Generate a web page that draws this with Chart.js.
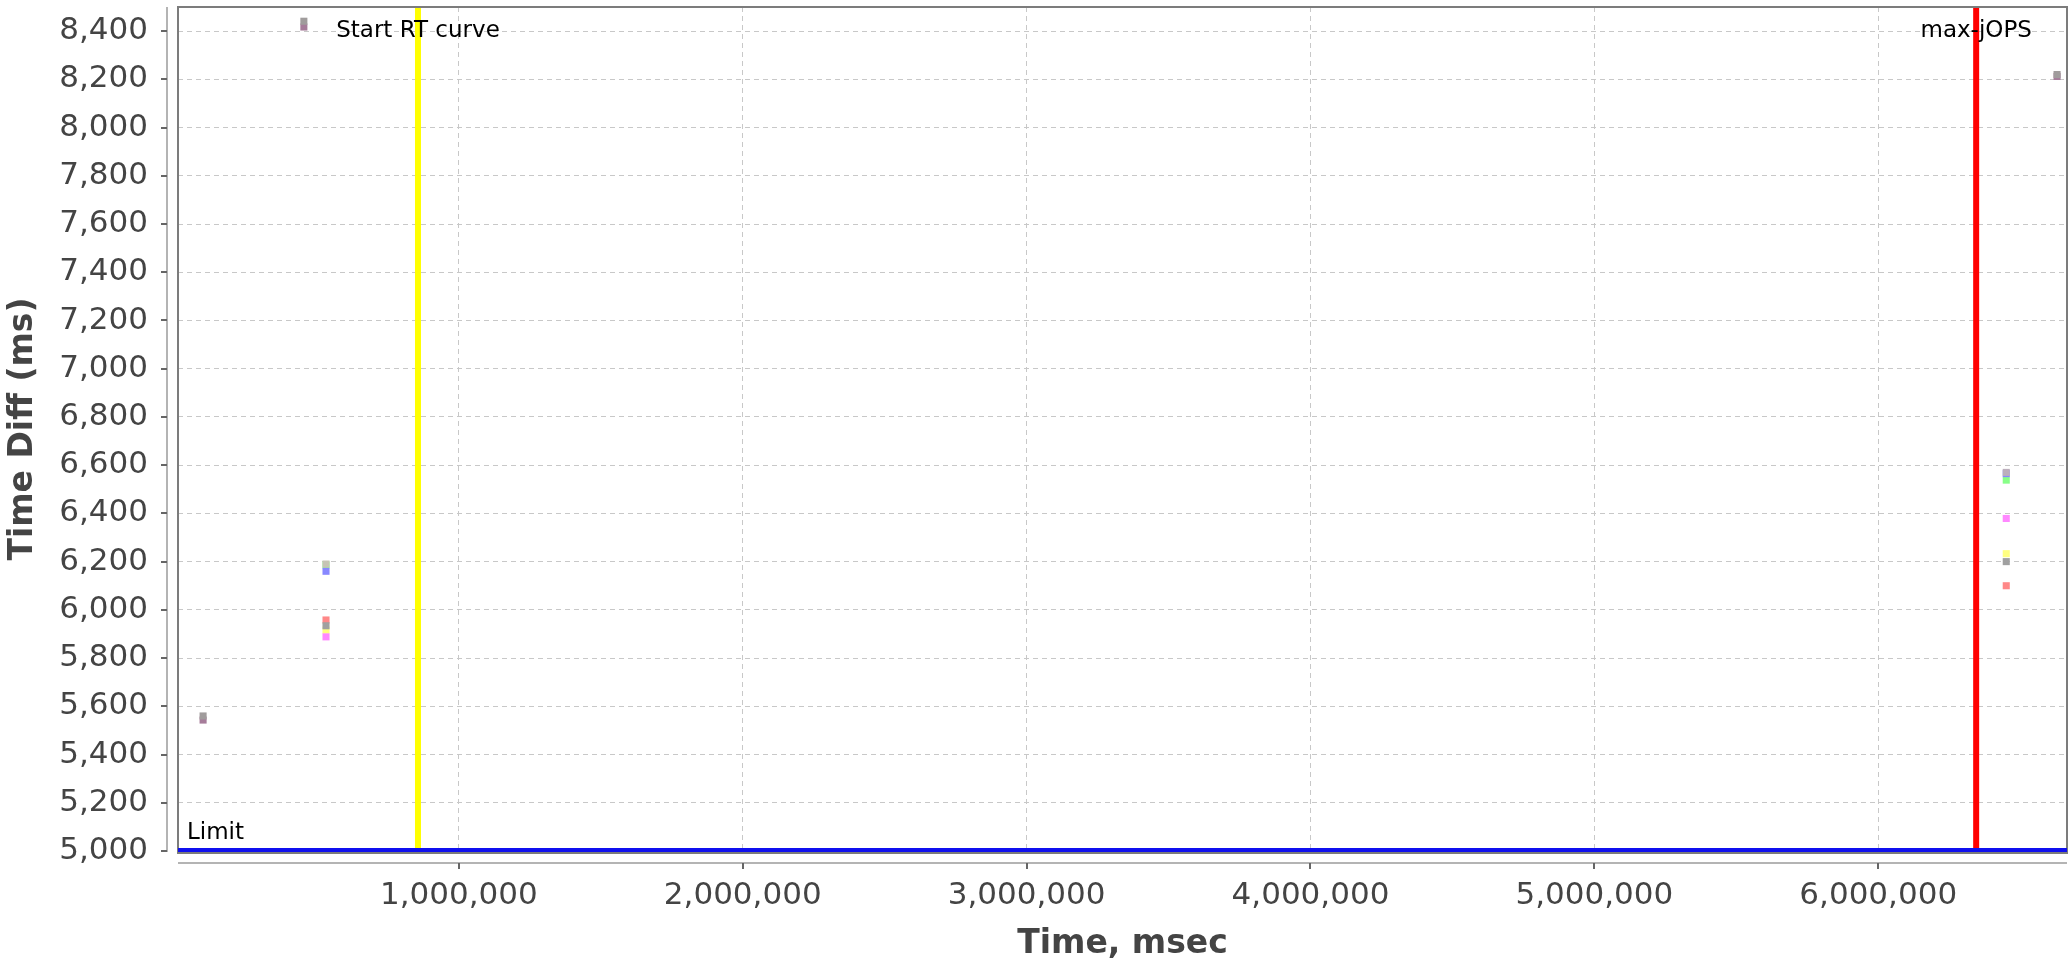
<!DOCTYPE html>
<html>
<head>
<meta charset="utf-8">
<script src="https://cdn.jsdelivr.net/npm/chart.js@4.4.0/dist/chart.umd.min.js"></script>
<style>
  html, body { margin: 0; padding: 0; background: #fff; }
  #contenedor { width: 2072px; height: 967px; }
</style>
</head>
<body>
<div id="contenedor"><canvas id="grafico" width="2072" height="967"></canvas></div>
<script>
// ticks de los ejes
var xTicks = [1000000, 2000000, 3000000, 4000000, 5000000, 6000000];
var yTicks = [5000, 5200, 5400, 5600, 5800, 6000, 6200, 6400, 6600, 6800, 7000, 7200, 7400, 7600, 7800, 8000, 8200, 8400];
var xMin = 10600, xMax = 6665000;
var yMin = 5000, yMax = 8500;

// marcadores
var startRT = 856000;   // Start RT curve
var maxJOPS = 6345000;  // max-jOPS
var limite = 5000;      // Limit

// series (tiempo en msec, diferencia en ms)
var plataX = [532000, 6451000],   plataY = [6190, 6570];
var grisX = [532000, 6451000],    grisY = [5934, 6200];
var magentaX = [532000, 6451000], magentaY = [5888, 6379];
var rojoX = [532000, 6451000],    rojoY = [5958, 6100];
var azulX = [532000, 6451000],    azulY = [6160, 6565];
var verdeX = [532000, 6451000],   verdeY = [6186, 6538];
var amarilloX = [532000, 6451000], amarilloY = [5916, 6233];
var grisMaxX = [99000, 454000, 6630000], grisMaxY = [5560, 8441, 8220];
var malvaX = [99000, 454000, 6630000],   malvaY = [5543, 8417, 8212];

function puntos(xs, ys) {
  var out = [];
  for (var i = 0; i < xs.length; i++) {
    out.push({ x: xs[i], y: ys[i] });
  }
  return out;
}

function serie(nombre, xs, ys, color) {
  return {
    label: nombre,
    data: puntos(xs, ys),
    showLine: false,
    pointStyle: 'rect',
    pointRadius: 5,
    pointHoverRadius: 5,
    pointBorderWidth: 0,
    pointBackgroundColor: color,
    pointBorderColor: color
  };
}

var fuente = "'DejaVu Sans', sans-serif";

// lineas de marcadores, etiquetas y bordes (estilo JFreeChart)
var decoraciones = {
  id: 'decoraciones',
  beforeDatasetsDraw: function(chart) {
    var ctx = chart.ctx;
    var a = chart.chartArea;
    var sx = chart.scales.x, sy = chart.scales.y;
    ctx.save();

    // eje y desplazado
    ctx.strokeStyle = '#b4b4b4';
    ctx.lineWidth = 2;
    ctx.beginPath();
    ctx.moveTo(167, a.top);
    ctx.lineTo(167, a.bottom + 1);
    ctx.stroke();
    // eje x desplazado
    ctx.beginPath();
    ctx.moveTo(a.left, a.bottom + 12);
    ctx.lineTo(a.right, a.bottom + 12);
    ctx.stroke();

    // marcas de los ticks
    ctx.strokeStyle = '#666';
    ctx.lineWidth = 2;
    yTicks.forEach(function(v) {
      var py = Math.round(sy.getPixelForValue(v));
      ctx.beginPath();
      ctx.moveTo(161, py);
      ctx.lineTo(167, py);
      ctx.stroke();
    });
    xTicks.forEach(function(v) {
      var px = Math.round(sx.getPixelForValue(v));
      ctx.beginPath();
      ctx.moveTo(px, a.bottom + 12);
      ctx.lineTo(px, a.bottom + 18);
      ctx.stroke();
    });

    // Start RT curve
    var p1 = sx.getPixelForValue(startRT);
    ctx.strokeStyle = '#ffff00';
    ctx.lineWidth = 6;
    ctx.beginPath();
    ctx.moveTo(p1, a.top);
    ctx.lineTo(p1, a.bottom);
    ctx.stroke();

    // max-jOPS
    var p2 = sx.getPixelForValue(maxJOPS);
    ctx.strokeStyle = '#ff0000';
    ctx.lineWidth = 6;
    ctx.beginPath();
    ctx.moveTo(p2, a.top);
    ctx.lineTo(p2, a.bottom);
    ctx.stroke();

    // borde del area
    ctx.strokeStyle = '#7c7c7c';
    ctx.lineWidth = 2;
    ctx.strokeRect(a.left, a.top, a.right - a.left, a.bottom - a.top + 2);

    // Limit
    var p3 = sy.getPixelForValue(limite);
    ctx.strokeStyle = '#1010ee';
    ctx.lineWidth = 4;
    ctx.beginPath();
    ctx.moveTo(a.left, p3 - 1);
    ctx.lineTo(a.right, p3 - 1);
    ctx.stroke();

    // etiquetas
    ctx.fillStyle = '#000';
    ctx.font = "23px " + fuente;
    ctx.textBaseline = 'alphabetic';
    ctx.textAlign = 'center';
    ctx.fillText('Start RT curve', p1, a.top + 30);
    ctx.fillText('max-jOPS', p2, a.top + 30);
    ctx.textAlign = 'left';
    ctx.fillText('Limit', a.left + 9, p3 - 12);

    ctx.restore();
  }
};

var ctx = document.getElementById('grafico').getContext('2d');

new Chart(ctx, {
  type: 'scatter',
  data: {
    datasets: [
      serie('plata', plataX, plataY, ['#c6c4b4', '#bcaebc']),
      serie('gris', grisX, grisY, '#a0a0a0'),
      serie('magenta', magentaX, magentaY, '#ff88ff'),
      serie('rojo', rojoX, rojoY, '#ff8888'),
      serie('azul', azulX, azulY, '#8888ff'),
      serie('verde', verdeX, verdeY, '#88ff88'),
      serie('amarillo', amarilloX, amarilloY, '#ffff80'),
      serie('grisMax', grisMaxX, grisMaxY, '#a09c9c'),
      serie('malva', malvaX, malvaY, '#a67c9a')
    ]
  },
  options: {
    responsive: false,
    animation: false,
    devicePixelRatio: 1,
    layout: { padding: { left: 0, right: 4, top: 7, bottom: 0 } },
    plugins: {
      legend: { display: false },
      tooltip: { enabled: false }
    },
    scales: {
      x: {
        type: 'linear',
        min: xMin,
        max: xMax,
        afterBuildTicks: function(scale) {
          scale.ticks = xTicks.map(function(v) { return { value: v }; });
        },
        afterFit: function(scale) {
          scale.height = 116;
          scale.paddingLeft = 0;
          scale.paddingRight = 0;
        },
        grid: { color: '#c8c8c8', lineWidth: 1, drawTicks: false },
        border: { display: false, dash: [5, 4] },
        ticks: {
          padding: 26,
          color: '#444',
          font: { family: fuente, size: 31 },
          callback: function(v) { return v.toLocaleString('en-US'); }
        },
        title: {
          display: true,
          text: 'Time, msec',
          color: '#444',
          font: { family: fuente, size: 33, weight: 'bold' },
          padding: { top: 0, bottom: 3 }
        }
      },
      y: {
        type: 'linear',
        min: yMin,
        max: yMax,
        afterBuildTicks: function(scale) {
          scale.ticks = yTicks.map(function(v) { return { value: v }; });
        },
        afterFit: function(scale) {
          scale.width = 178;
          scale.paddingTop = 0;
          scale.paddingBottom = 0;
        },
        grid: { color: '#c8c8c8', lineWidth: 1, drawTicks: false },
        border: { display: false, dash: [5, 4] },
        ticks: {
          padding: 30,
          color: '#444',
          font: { family: fuente, size: 31 },
          callback: function(v) { return v.toLocaleString('en-US'); }
        },
        title: {
          display: true,
          text: 'Time Diff (ms)',
          color: '#444',
          font: { family: fuente, size: 33, weight: 'bold' },
          padding: { top: 4, bottom: 0 }
        }
      }
    }
  },
  plugins: [decoraciones]
});
</script>
</body>
</html>
